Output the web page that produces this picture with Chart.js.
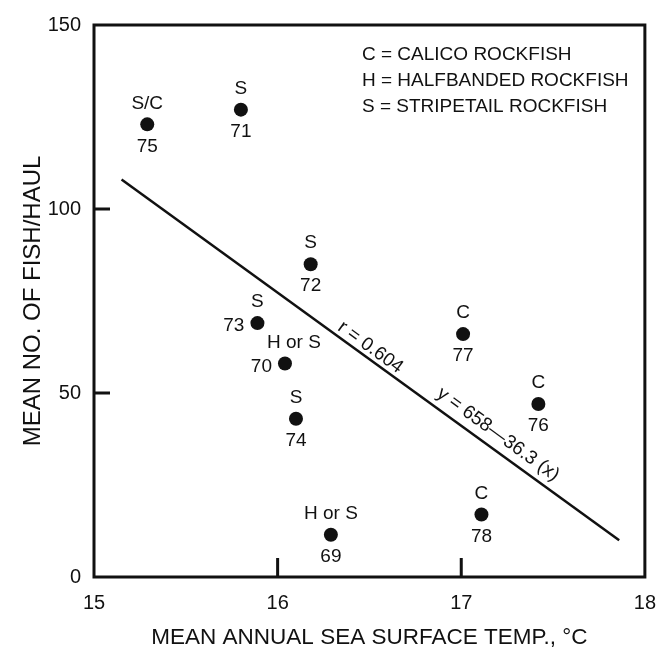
<!DOCTYPE html>
<html>
<head>
<meta charset="utf-8">
<script src="https://cdn.jsdelivr.net/npm/chart.js@4.4.1/dist/chart.umd.min.js"></script>
<style>
  html, body { margin: 0; padding: 0; background: #fff; }
  #wrap { width: 670px; height: 651px; }
</style>
</head>
<body>
<div id="wrap"><canvas id="c" width="670" height="651"></canvas></div>
<script>
// ---- data ----
const years   = ['75', '71', '72', '73', '70', '74', '69', '78', '76', '77'];
const species = ['S/C', 'S', 'S', 'S', 'H or S', 'S', 'H or S', 'C', 'C', 'C'];
const tempX   = [15.29, 15.80, 16.18, 15.89, 16.04, 16.10, 16.29, 17.11, 17.42, 17.01];
const fishY   = [123, 127, 85, 69, 58, 43, 11.5, 17, 47, 66];
const yearSide = ['below', 'below', 'below', 'left', 'left', 'below', 'below', 'below', 'below', 'below'];

const lineX = [15.15, 17.86];
const lineY = [108, 10];

const xTicks = [15, 16, 17, 18];
const yTicks = [0, 50, 100, 150];
const legendLines = ['C = CALICO ROCKFISH', 'H = HALFBANDED ROCKFISH', 'S = STRIPETAIL ROCKFISH'];
const rText = 'r = 0.604';
const eqText = 'y = 658\u201436.3 (x)';
const xTitle = 'MEAN ANNUAL SEA SURFACE TEMP., \u00B0C';
const yTitle = 'MEAN NO. OF FISH/HAUL';

const FONT = '"Liberation Sans", Arial, Helvetica, sans-serif';
const INK = '#111';

const points = tempX.map((x, i) => ({ x: x, y: fishY[i] }));
const regLine = lineX.map((x, i) => ({ x: x, y: lineY[i] }));

const decorPlugin = {
  id: 'decor',
  afterDatasetsDraw(chart) {
    const { ctx, chartArea: a, scales: { x: xs, y: ys } } = chart;
    ctx.save();
    // frame
    ctx.strokeStyle = INK;
    ctx.lineWidth = 3;
    ctx.strokeRect(a.left, a.top, a.right - a.left, a.bottom - a.top);
    // inward ticks (interior ones)
    ctx.beginPath();
    yTicks.slice(1, -1).forEach(v => {
      const py = ys.getPixelForValue(v);
      ctx.moveTo(a.left, py); ctx.lineTo(a.left + 16, py);
    });
    xTicks.slice(1, -1).forEach(v => {
      const px = xs.getPixelForValue(v);
      ctx.moveTo(px, a.bottom); ctx.lineTo(px, a.bottom - 19);
    });
    ctx.stroke();

    // point labels
    ctx.fillStyle = INK;
    ctx.font = '19px ' + FONT;
    ctx.textBaseline = 'middle';
    points.forEach((p, i) => {
      const px = xs.getPixelForValue(p.x);
      const py = ys.getPixelForValue(p.y);
      ctx.textAlign = 'center';
      let sdx = 0;
      if (yearSide[i] === 'left' && species[i].length > 2) sdx = 9;
      ctx.fillText(species[i], px + sdx, py - 21);
      if (yearSide[i] === 'left') {
        ctx.textAlign = 'right';
        ctx.fillText(years[i], px - 13, py + 3);
      } else {
        ctx.textAlign = 'center';
        ctx.fillText(years[i], px, py + 22);
      }
    });

    // legend text
    ctx.textAlign = 'left';
    ctx.font = '19px ' + FONT;
    legendLines.forEach((t, i) => {
      ctx.fillText(t, 362, 55 + i * 26);
    });

    // rotated annotations along the regression line
    const x1 = xs.getPixelForValue(lineX[0]), y1 = ys.getPixelForValue(lineY[0]);
    const x2 = xs.getPixelForValue(lineX[1]), y2 = ys.getPixelForValue(lineY[1]);
    const ang = Math.atan2(y2 - y1, x2 - x1);
    const onLine = (px) => y1 + (y2 - y1) * (px - x1) / (x2 - x1);
    const drawRot = (text, dataX, dy) => {
      const px = xs.getPixelForValue(dataX);
      const py = onLine(px) - dy;
      ctx.save();
      ctx.translate(px, py);
      ctx.rotate(ang);
      ctx.textAlign = 'center';
      ctx.textBaseline = 'middle';
      ctx.fillText(text, 0, 0);
      ctx.restore();
    };
    ctx.font = '19px ' + FONT;
    drawRot(rText, 16.505, 12.5);
    drawRot(eqText, 17.20, 18);
    ctx.restore();
  }
};

new Chart(document.getElementById('c'), {
  type: 'scatter',
  data: {
    datasets: [
      {
        label: 'Hauls',
        data: points,
        pointRadius: 7,
        pointHoverRadius: 7,
        pointBackgroundColor: INK,
        pointBorderColor: INK,
        pointBorderWidth: 0,
        showLine: false
      },
      {
        label: 'Regression',
        data: regLine,
        showLine: true,
        pointRadius: 0,
        borderColor: INK,
        borderWidth: 2.5,
        fill: false
      }
    ]
  },
  options: {
    responsive: false,
    animation: false,
    layout: { padding: { left: 0, top: 21, right: 21, bottom: 0 } },
    plugins: { legend: { display: false }, tooltip: { enabled: false } },
    scales: {
      x: {
        type: 'linear',
        min: 15, max: 18,
        afterBuildTicks(s) { s.ticks = xTicks.map(v => ({ value: v })); },
        afterFit(s) { s.height = 74; },
        grid: { display: false, drawTicks: false },
        border: { display: false },
        ticks: {
          padding: 14,
          color: INK,
          font: { family: FONT, size: 20 },
          callback: v => String(v)
        },
        title: {
          display: true,
          text: xTitle,
          color: INK,
          font: { family: FONT, size: 22.5 },
          padding: { top: 0, bottom: 0 }
        }
      },
      y: {
        type: 'linear',
        min: 0, max: 150,
        afterBuildTicks(s) { s.ticks = yTicks.map(v => ({ value: v })); },
        afterFit(s) { s.width = 94; },
        grid: { display: false, drawTicks: false },
        border: { display: false },
        ticks: {
          padding: 13,
          color: INK,
          font: { family: FONT, size: 20 },
          callback: v => String(v)
        },
        title: {
          display: true,
          text: yTitle,
          color: INK,
          font: { family: FONT, size: 24 },
          padding: { top: 19, bottom: 0 }
        }
      }
    }
  },
  plugins: [decorPlugin]
});
</script>
</body>
</html>
